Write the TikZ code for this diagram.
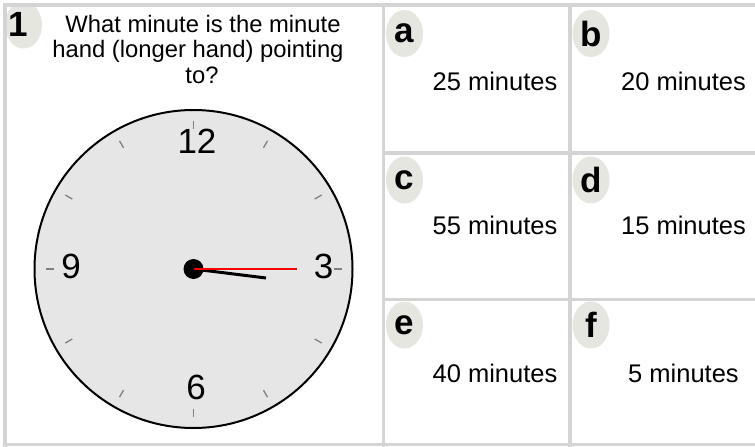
\documentclass[tikz,border=0pt]{standalone}
\usepackage{fontspec}
\setmainfont{Liberation Sans}
\usetikzlibrary{shapes.geometric}
\definecolor{gridgray}{RGB}{212,212,212}
\definecolor{badgefill}{RGB}{230,230,224}
\definecolor{facefill}{RGB}{230,230,230}
\definecolor{tickgray}{RGB}{128,128,128}
\begin{document}
\begin{tikzpicture}[x=1pt,y=-1pt,
  gridline/.style={draw=gridgray,line width=3.5pt},
  badgebox/.style={ellipse,fill=badgefill,minimum width=37pt,minimum height=47pt,inner sep=0pt},
  badgetext/.style={font=\fontsize{35}{35}\selectfont\bfseries,inner sep=0pt},
  answer/.style={font=\fontsize{25.5}{28}\selectfont,inner sep=0pt,anchor=base},
  question/.style={font=\fontsize{23.8}{26}\selectfont,inner sep=0pt,anchor=base},
  numeral/.style={font=\fontsize{35}{35}\selectfont,inner sep=0pt},
  ticklen/.style={draw=tickgray,line width=1.3pt},
  handhour/.style={draw=black,line width=3pt},
  handmin/.style={draw=red,line width=2.2pt},
]
\useasboundingbox (0,0) rectangle (755,447);
\fill[white] (0,0) rectangle (755,447);

% badge of question 1 (clipped to its cell)
\begin{scope}
  \clip (5,5) rectangle (383,445);
  \node[badgebox] (b1) at (23.5,25) {};
\end{scope}
\node[badgetext] (n1) at (18.5,24.5) {1};

% question text
\node[question] (q1) at (203,32) {What minute is the minute};
\node[question] (q2) at (198,57) {hand (longer hand) pointing};
\node[question] (q3) at (202,83) {to?};

% clock
\coordinate (C) at (193.5,269);
\node[circle,draw=black,line width=2pt,fill=facefill,minimum size=318pt,inner sep=0pt] (clock) at (C) {};
\foreach \a in {0,30,...,330}
  \draw[ticklen] (C) ++(\a:140) -- ++(\a:8);
\node[numeral] (h12) at (197,141) {12};
\node[numeral] (h3) at (323.5,266.5) {3};
\node[numeral] (h9) at (71,266.5) {9};
\node[numeral] (h6) at (196,387.5) {6};
\coordinate (hourtip) at (266,278);
\coordinate (mintip) at (297,269);
\node[circle,fill=black,minimum size=20pt,inner sep=0pt] (hub) at (C) {};
\draw[handhour] (hub.center) -- (hourtip);
\draw[handmin] (hub.center) -- (mintip);

% answer badges
\node[badgebox,badgetext] (ba) at (404.5,33.5) {a};
\node[badgebox,badgetext] (bb) at (591,33.5) {b};
\node[badgebox,badgetext] (bc) at (404.5,180) {c};
\node[badgebox,badgetext] (bd) at (591,180) {d};
\node[badgebox,badgetext] (be) at (404.5,325) {e};
\node[badgebox,badgetext] (bf) at (591,325) {f};

% answers
\node[answer] (ta) at (495,90) {25 minutes};
\node[answer] (tb) at (683.5,90) {20 minutes};
\node[answer] (tc) at (495,234) {55 minutes};
\node[answer] (td) at (683.5,234) {15 minutes};
\node[answer] (te) at (495,382) {40 minutes};
\node[answer] (tf) at (683.5,382) {5 minutes};

% grid
\draw[gridline] (3,5) -- (757,5);
\draw[gridline] (5,3) -- (5,449);
\draw[gridline] (3,444.5) -- (757,444.5);
\draw[gridline] (383.5,5) -- (383.5,449);
\draw[gridline] (570,5) -- (570,449);
\draw[gridline] (383.5,153) -- (757,153);
\draw[gridline] (383.5,299.5) -- (757,299.5);
\end{tikzpicture}
\end{document}
